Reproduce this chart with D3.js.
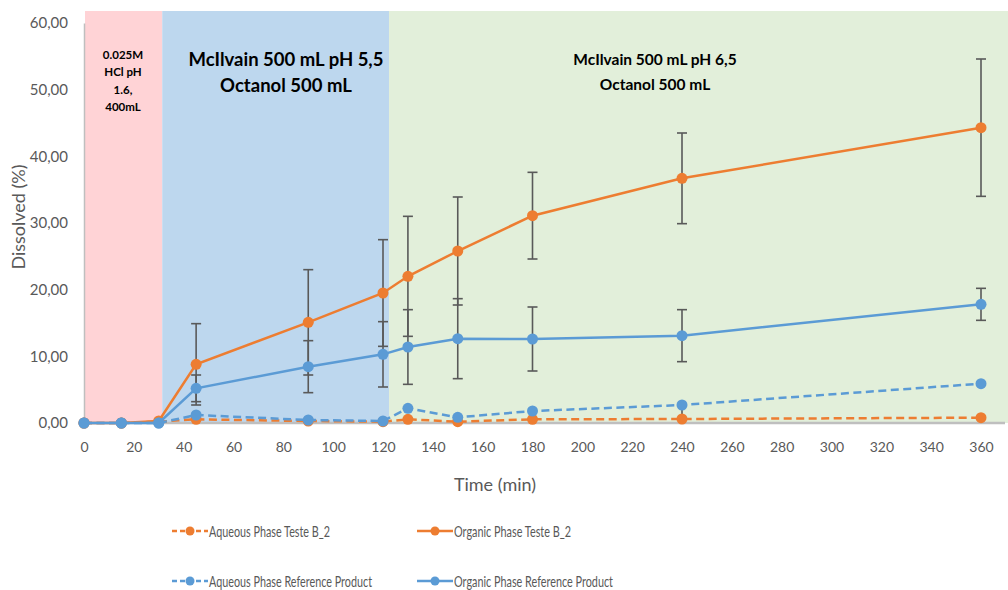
<!DOCTYPE html>
<html>
<head>
<meta charset="utf-8">
<script src="https://cdn.jsdelivr.net/npm/d3@7"></script>
<style>
    body { margin: 0; background: #fff; }
    svg { display: block; font-family: Lato, "Open Sans", sans-serif; }
</style>
</head>
<body>
<svg id="chart" width="1008" height="590"></svg>
<script>
// sample times (min)
var times = [0, 15, 30, 45, 90, 120, 130, 150, 180, 240, 360];

// dissolved (%) per series
var aqueousTeste = [0, 0, 0.2, 0.55, 0.3, 0.2, 0.55, 0.2, 0.55, 0.6, 0.8];
var organicTeste = [0, 0, 0.3, 8.8, 15.1, 19.5, 22.0, 25.8, 31.1, 36.7, 44.3];
var aqueousRef = [0, 0, 0, 1.2, 0.45, 0.3, 2.2, 0.85, 1.8, 2.7, 5.9];
var organicRef = [0, 0, 0, 5.2, 8.45, 10.3, 11.4, 12.65, 12.6, 13.1, 17.8];

// error bar half widths
var aqueousTesteErr = [0, 0, 0, 0, 0, 0, 0, 0, 0, 2.0, 0];
var organicTesteErr = [0, 0, 0, 6.1, 7.9, 8.0, 9.0, 8.1, 6.5, 6.8, 10.3];
var organicRefErr = [0, 0, 0, 2.0, 3.9, 4.9, 5.6, 6.0, 4.8, 3.9, 2.4];

var yTicks = [0, 10, 20, 30, 40, 50, 60];
var xTicks = d3.range(0, 361, 20);

// medium phases shown as coloured bands
var phaseStart = [0, 31, 122];
var phaseEnd = [31, 122, 371];
var phaseColors = ["#ffd3d6", "#bdd7ee", "#e2efda"];

var seriesNames = ["Aqueous Phase Teste B_2", "Organic Phase Teste B_2",
                   "Aqueous Phase Reference Product", "Organic Phase Reference Product"];
var seriesColors = ["#ed7d31", "#ed7d31", "#5b9bd5", "#5b9bd5"];
var seriesDashed = [true, false, true, false];
var seriesValues = [aqueousTeste, organicTeste, aqueousRef, organicRef];
var seriesErrors = [aqueousTesteErr, organicTesteErr, null, organicRefErr];

var svg = d3.select("#chart");

var x = d3.scaleLinear().domain([0, 360]).range([84, 981]);
var y = d3.scaleLinear().domain([0, 60]).range([423, 23]);

svg.append("clipPath").attr("id", "plotclip")
    .append("rect").attr("x", 0).attr("y", 0).attr("width", 1008).attr("height", y(0));

// bands
svg.append("g").selectAll("rect")
    .data(phaseStart)
    .enter().append("rect")
    .attr("x", function(d) { return x(d) + 1; })
    .attr("width", function(d, i) { return x(phaseEnd[i]) - x(d); })
    .attr("y", y(61.8))
    .attr("height", y(0) - y(61.8))
    .attr("fill", function(d, i) { return phaseColors[i]; });

// axes
var yAxis = d3.axisLeft(y).tickValues(yTicks).tickSize(0).tickPadding(16)
    .tickFormat(function(d) { return d3.format(".2f")(d).replace(".", ","); });
var gy = svg.append("g").attr("transform", "translate(84,0)").call(yAxis);
gy.select(".domain").attr("stroke", "#bfbfbf").attr("stroke-width", 1.5);
gy.selectAll("text").attr("fill", "#595959").style("font-size", "15px")
    .style("font-family", "Lato, sans-serif");

var xAxis = d3.axisBottom(x).tickValues(xTicks).tickSize(0).tickPadding(19);
var gx = svg.append("g").attr("transform", "translate(0," + y(0) + ")").call(xAxis);
gx.select(".domain").attr("d", "M84,0H1005").attr("stroke", "#bfbfbf").attr("stroke-width", 2.5);
gx.selectAll("text").attr("fill", "#595959").style("font-size", "14px")
    .style("font-family", "Lato, sans-serif");

// axis titles
svg.append("text")
    .attr("transform", "translate(25,217) rotate(-90)")
    .attr("text-anchor", "middle")
    .attr("fill", "#595959")
    .style("font-size", "17px")
    .attr("textLength", 105)
    .attr("lengthAdjust", "spacingAndGlyphs")
    .text("Dissolved (%)");

svg.append("text")
    .attr("x", 495).attr("y", 491)
    .attr("text-anchor", "middle")
    .attr("fill", "#595959")
    .style("font-size", "18px")
    .text("Time (min)");

// band labels
function addLabel(lines, cx, y0, step, size, weight) {
    var t = svg.append("text")
        .attr("text-anchor", "middle")
        .attr("fill", "#000")
        .style("font-size", size + "px")
        .style("font-weight", weight);
    lines.forEach(function(l, i) {
        t.append("tspan").attr("x", cx).attr("y", y0 + i * step).text(l);
    });
}
addLabel(["0.025M", "HCl pH", "1.6,", "400mL"], 123, 59, 17.3, 11.5, 700);
addLabel(["McIlvain 500 mL pH 5,5", "Octanol 500 mL"], 286, 66, 26, 18.5, 700);
addLabel(["McIlvain 500 mL pH 6,5", "Octanol 500 mL"], 655, 65, 24.5, 15.5, 700);

// error bars
var errG = svg.append("g").attr("stroke", "#595959").attr("stroke-width", 1.6)
    .attr("clip-path", "url(#plotclip)");
seriesErrors.forEach(function(err, s) {
    if (!err) return;
    times.forEach(function(t, i) {
        if (!err[i]) return;
        var v = seriesValues[s][i];
        var cx = x(t);
        errG.append("line").attr("x1", cx).attr("x2", cx)
            .attr("y1", y(v + err[i])).attr("y2", y(v - err[i]));
        errG.append("line").attr("x1", cx - 5).attr("x2", cx + 5)
            .attr("y1", y(v + err[i])).attr("y2", y(v + err[i]));
        errG.append("line").attr("x1", cx - 5).attr("x2", cx + 5)
            .attr("y1", y(v - err[i])).attr("y2", y(v - err[i]));
    });
});

// lines and markers
var line = d3.line()
    .x(function(d, i) { return x(times[i]); })
    .y(function(d) { return y(d); });

seriesValues.forEach(function(vals, s) {
    svg.append("path")
        .datum(vals)
        .attr("d", line)
        .attr("fill", "none")
        .attr("stroke", seriesColors[s])
        .attr("stroke-width", 2.5)
        .attr("stroke-dasharray", seriesDashed[s] ? "8,4.5" : null);
    svg.append("g").selectAll("circle")
        .data(vals)
        .enter().append("circle")
        .attr("cx", function(d, i) { return x(times[i]); })
        .attr("cy", function(d) { return y(d); })
        .attr("r", 5.5)
        .attr("fill", seriesColors[s]);
});

// legend
var legX = [172, 417, 172, 417];
var legY = [531, 531, 581, 581];
var legTextW = [121, 117, 163, 159];
seriesNames.forEach(function(name, s) {
    var g = svg.append("g").attr("transform", "translate(" + legX[s] + "," + legY[s] + ")");
    g.append("line").attr("x1", 0).attr("x2", 36)
        .attr("stroke", seriesColors[s]).attr("stroke-width", 2.5)
        .attr("stroke-dasharray", seriesDashed[s] ? "5,3" : null);
    g.append("circle").attr("cx", 18).attr("r", 4.5).attr("fill", seriesColors[s]);
    g.append("text").attr("x", 37).attr("y", 6)
        .attr("fill", "#595959")
        .style("font-size", "16px")
        .attr("textLength", legTextW[s])
        .attr("lengthAdjust", "spacingAndGlyphs")
        .text(name);
});
</script>
</body>
</html>
